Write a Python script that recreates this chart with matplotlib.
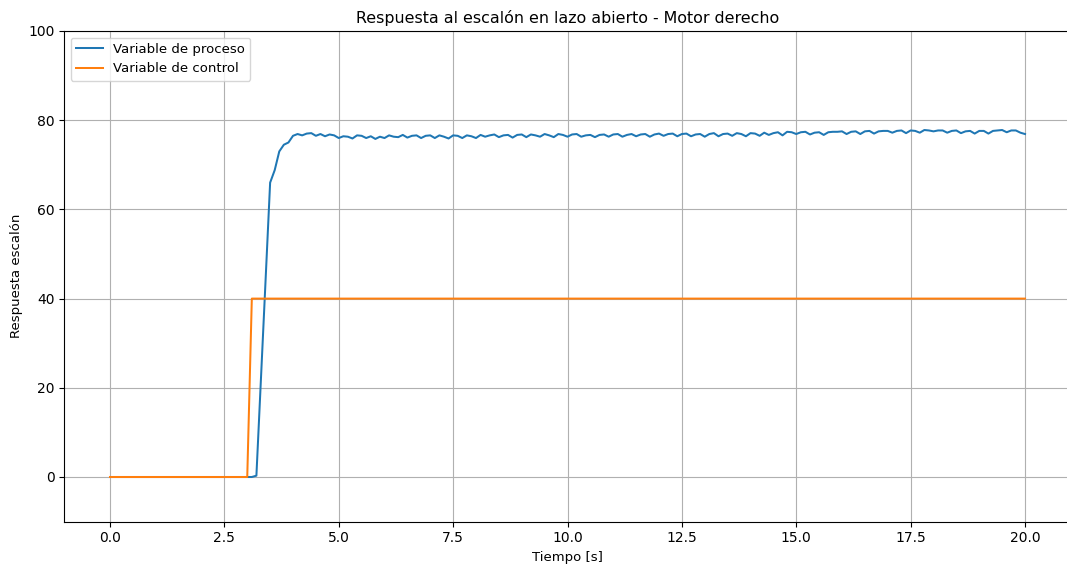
import numpy as np
import matplotlib
matplotlib.use("Agg")
import matplotlib.pyplot as plt

plt.rcParams["font.size"] = 9.5
plt.rcParams["xtick.labelsize"] = 10
plt.rcParams["ytick.labelsize"] = 10
plt.rcParams["lines.linewidth"] = 1.45

# Time (s), sampled every 0.1 s
tiempo = [round(0.1 * i, 1) for i in range(201)]

# Process variable
pv_inicio = [0.0] * 32 + [0.3, 22.0, 44.0, 66.0, 68.8, 73.0, 74.5, 75.0]  # t = 0.0 .. 3.9
pv_4 = [76.5, 76.9, 76.6, 77.0, 77.1, 76.5, 76.9, 76.4, 76.8, 76.6]
pv_5 = [76.0, 76.4, 76.3, 75.9, 76.6, 76.5, 76.0, 76.4, 75.8, 76.3]
pv_6 = [76.0, 76.6, 76.3, 76.2, 76.7, 76.1, 76.5, 76.6, 76.0, 76.5]
pv_7 = [76.6, 76.0, 76.6, 76.3, 75.9, 76.6, 76.5, 76.0, 76.6, 76.4]
pv_8 = [76.0, 76.7, 76.3, 76.6, 76.8, 76.2, 76.6, 76.7, 76.1, 76.7]
pv_9 = [76.8, 76.2, 76.8, 76.6, 76.3, 76.9, 76.6, 76.2, 76.9, 76.7]
pv_10 = [76.3, 76.8, 76.9, 76.3, 76.6, 76.7, 76.2, 76.7, 76.8, 76.3]
pv_11 = [76.8, 76.9, 76.3, 76.7, 76.9, 76.4, 76.8, 76.9, 76.3, 76.8]
pv_12 = [77.0, 76.5, 76.9, 77.0, 76.4, 76.9, 77.0, 76.4, 76.8, 76.9]
pv_13 = [76.3, 76.9, 77.1, 76.4, 76.9, 77.0, 76.5, 77.1, 76.9, 76.4]
pv_14 = [77.1, 77.0, 76.5, 77.2, 76.7, 77.1, 77.3, 76.6, 77.4, 77.3]
pv_15 = [76.9, 77.3, 77.4, 76.8, 77.2, 77.3, 76.7, 77.3, 77.4, 77.4]
pv_16 = [77.5, 76.9, 77.4, 77.5, 76.9, 77.5, 77.6, 77.0, 77.5, 77.6]
pv_17 = [77.6, 77.2, 77.6, 77.7, 77.1, 77.7, 77.6, 77.2, 77.8, 77.7]
pv_18 = [77.5, 77.7, 77.7, 77.2, 77.6, 77.7, 77.1, 77.5, 77.6, 77.0]
pv_19 = [77.6, 77.6, 77.0, 77.6, 77.7, 77.8, 77.3, 77.7, 77.7, 77.2]
pv_20 = [76.9]

variable_proceso = (pv_inicio + pv_4 + pv_5 + pv_6 + pv_7 + pv_8 + pv_9 + pv_10
                    + pv_11 + pv_12 + pv_13 + pv_14 + pv_15 + pv_16 + pv_17
                    + pv_18 + pv_19 + pv_20)

# Control variable: step from 0 to 40
variable_control = [0.0] * 31 + [40.0] * 170

fig = plt.figure(figsize=(10.67, 5.65), dpi=100)
ax = fig.add_axes([64.25 / 1067, 1 - 521.6 / 565, (1070.75 - 64.25) / 1067, (521.6 - 31) / 565])

ax.plot(tiempo, variable_proceso, label="Variable de proceso")
ax.plot(tiempo, variable_control, label="Variable de control")

ax.set_ylim(-10, 100)
ax.set_xticks(np.arange(0, 20.1, 2.5))
ax.grid(True)
ax.set_title("Respuesta al escalón en lazo abierto - Motor derecho", fontsize=11.4)
ax.set_xlabel("Tiempo [s]")
ax.set_ylabel("Respuesta escalón")
ax.legend(loc="upper left")

fig.savefig("out.png", dpi=100)
